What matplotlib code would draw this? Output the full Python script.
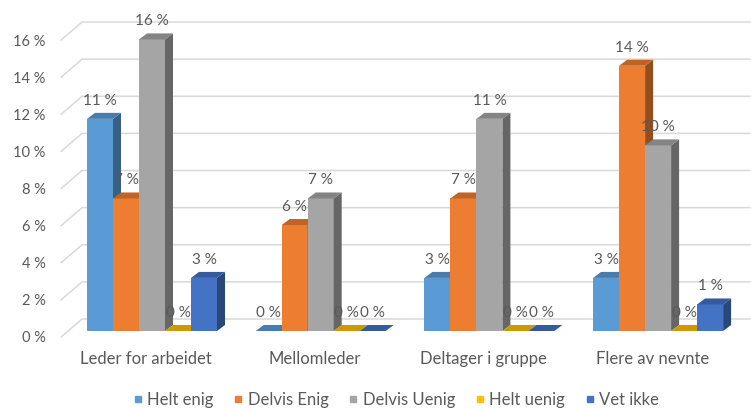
import numpy as np
import matplotlib.pyplot as plt
from matplotlib.patches import Polygon, Rectangle
from matplotlib.lines import Line2D
from matplotlib.colors import to_rgb

plt.rcParams['font.family'] = ['Lato', 'DejaVu Sans']

# survey shares in percent (n = 70)
categories = ['Leder for arbeidet', 'Mellomleder', 'Deltager i gruppe', 'Flere av nevnte']
series = ['Helt enig', 'Delvis Enig', 'Delvis Uenig', 'Helt uenig', 'Vet ikke']
helt_enig = [11.43, 0.0, 2.86, 2.86]
delvis_enig = [7.14, 5.71, 7.14, 14.29]
delvis_uenig = [15.71, 7.14, 11.43, 10.0]
helt_uenig = [0.0, 0.0, 0.0, 0.0]
vet_ikke = [2.86, 0.0, 0.0, 1.43]
yticks = [0, 2, 4, 6, 8, 10, 12, 14, 16]

values = [helt_enig, delvis_enig, delvis_uenig, helt_uenig, vet_ikke]
colors = ['#5B9BD5', '#ED7D31', '#A5A5A5', '#FFC000', '#4472C4']
text_color = '#595959'
grid_color = '#D9D9D9'


def shade(c, f):
    return tuple(v * f for v in to_rgb(c))


fig = plt.figure(figsize=(7.51, 4.08), dpi=100)
# pixel scale: 168.7 px per category, 18.56 px per percent
px_x = 168.7
px_y = 18.56
ax = fig.add_axes([(152 - 0.5 * px_x) / 751, 71 / 408, 4 * px_x / 751, 16 * px_y / 408])
ax.set_xlim(-0.5, 3.5)
ax.set_ylim(0, 16)
for s in ax.spines.values():
    s.set_visible(False)

# 3d look: back wall offset, bar depth offset
wall_x0 = -0.539
wall_dx = 21 / px_x
wall_dy = 18 / px_y
bar_w = 26 / px_x
dep_x = 8 / px_x
dep_y = 6 / px_y
base = 6 / px_y

for v in yticks:
    ax.plot([wall_x0, wall_x0 + wall_dx, 3.545], [v, v + wall_dy, v + wall_dy],
            color=grid_color, lw=1.1, clip_on=False, zorder=1)

for j, vals in enumerate(values):
    c = colors[j]
    for i, v in enumerate(vals):
        x0 = i + (j - 2.5) * bar_w
        x1 = x0 + bar_w
        y0 = base
        y1 = base + v
        z = 3 + j
        ax.add_patch(Rectangle((x0, y0), bar_w, v, facecolor=c, edgecolor='none',
                               zorder=z, clip_on=False))
        ax.add_patch(Polygon([(x1, y0), (x1, y1), (x1 + dep_x, y1 + dep_y), (x1 + dep_x, y0 + dep_y)],
                             closed=True, facecolor=shade(c, 0.62), edgecolor='none',
                             zorder=z, clip_on=False))
        ax.add_patch(Polygon([(x0, y1), (x1, y1), (x1 + dep_x, y1 + dep_y), (x0 + dep_x, y1 + dep_y)],
                             closed=True, facecolor=shade(c, 0.8), edgecolor='none',
                             zorder=z, clip_on=False))
        ax.annotate(f'{v:.0f} %', (x0 + bar_w / 2, y1), xytext=(0, 13),
                    textcoords='offset points', ha='center', va='center',
                    fontsize=11, color=text_color, zorder=20, annotation_clip=False)

ax.set_yticks(yticks)
ax.set_yticklabels([f'{t} %' for t in yticks], fontsize=10.5, color=text_color)
ax.set_xticks(np.arange(len(categories)) - 0.035)
ax.set_xticklabels(categories, fontsize=12, color=text_color)
ax.tick_params(axis='y', length=0, pad=16)
ax.tick_params(axis='x', length=0, pad=10)

handles = [Line2D([], [], marker='s', linestyle='none', markersize=5, color=c) for c in colors]
fig.legend(handles, series, loc='center', bbox_to_anchor=(395 / 751, 8 / 408), ncol=5,
           frameon=False, fontsize=12, handlelength=0.8, handletextpad=0.15,
           columnspacing=1.1, labelcolor=text_color)

fig.savefig('out.png', dpi=100)
